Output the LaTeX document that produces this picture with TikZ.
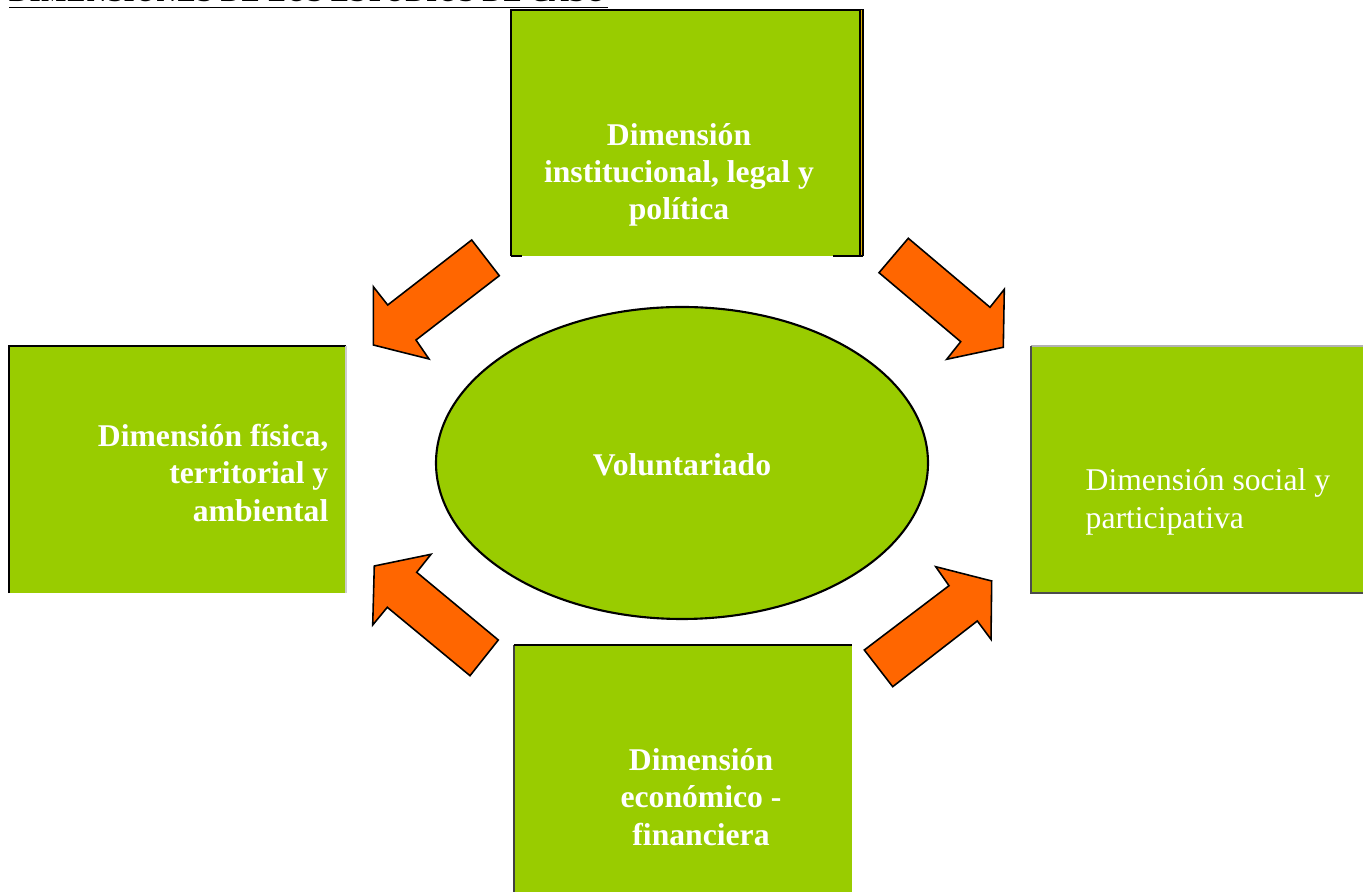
\documentclass[tikz,border=0pt]{standalone}
\usepackage{fontspec}
\setmainfont{Liberation Serif}
\definecolor{lime}{HTML}{99CC00}
\definecolor{orng}{HTML}{FF6600}
\definecolor{gold}{HTML}{E0B000}
\begin{document}
\begin{tikzpicture}[x=0.01cm,y=-0.01cm,
  box/.style={fill=lime, inner sep=0pt, outer sep=0pt},
  lbl/.style={text=white, font=\fontsize{9}{10.6}\selectfont\bfseries, inner sep=0pt},
  arr/.style={fill=orng, draw=black, line width=0.45pt, line join=miter},
  edge/.style={draw=black, line width=0.5pt}]
\useasboundingbox (0,0) rectangle (1363,892);
% title
\node[anchor=base west, inner sep=0pt, font=\fontsize{8.3}{10}\selectfont\bfseries\itshape] (title) at (9,1.5) {DIMENSIONES DE LOS ESTUDIOS DE CASO};
\draw[line width=0.45pt] (title.base west) ++(0,6) coordinate (ul1) -- (ul1 -| title.east);
% boxes
\node[box, minimum width=3.52cm, minimum height=2.46cm] (top) at (687,133) {};
\node[box, minimum width=3.37cm, minimum height=2.47cm] (left) at (177.5,469.5) {};
\node[box, minimum width=3.32cm, minimum height=2.47cm] (right) at (1197,469.5) {};
\node[box, minimum width=3.38cm, minimum height=2.47cm] (bottom) at (683,768.5) {};
% box borders
\draw[edge] (top.south west) -- (top.north west) -- (top.north east) -- (top.south east);
\draw[gold, line width=0.5pt] ([xshift=-0.015cm]top.north east) -- ([xshift=-0.015cm]top.south east);
\draw[edge] ([xshift=-0.03cm]top.north east) -- ([xshift=-0.03cm]top.south east);
\draw[edge] (top.south west) -- ++(11,0);
\draw[edge] (top.south east) -- ++(-30,0);
\draw[edge] (left.south west) -- (left.north west) -- (left.north east);
\draw[gray!40, line width=0.5pt] (left.north east) -- (left.south east);
\draw[gray!60, line width=0.5pt] (right.north east) -- (right.north west);
\draw[black!70, line width=0.5pt] (right.north west) -- (right.south west) -- (right.south east);
\draw[black!75, line width=0.5pt] (bottom.south west) -- (bottom.north west);
\draw[edge] (bottom.north west) -- (bottom.north east);
% ellipse
\draw[fill=lime, line width=0.6pt] (682,463) ellipse [x radius=246, y radius=156];
\node[lbl] (vol) at (682,465) {Voluntariado};
% labels
\node[lbl, align=center] (ttop) at (679,175) {Dimensión\\institucional, legal y\\política};
\node[lbl, align=right, anchor=east] (tleft) at (329,473) {Dimensión física,\\territorial y\\ambiental};
\node[lbl, align=left, anchor=west, font=\fontsize{9}{10.6}\selectfont\mdseries] (tright) at (1085,502) {Dimensión social y\\participativa};
\node[lbl, align=center] (tbot) at (701,797) {Dimensión\\económico -\\financiera};
% arrows
\draw[arr] (471.7,240) -- (499.3,275.7) -- (416,340) -- (429,359) -- (373.3,345) -- (373.3,286.7) -- (387.7,305) -- cycle;
\draw[arr] (908.3,238.3) -- (990,307.3) -- (1004.3,289.3) -- (1003.3,347.3) -- (946.7,359.3) -- (960.7,341.7) -- (879,272.7) -- cycle;
\draw[arr] (431,554.3) -- (374.3,566) -- (372.7,625) -- (387.3,607.3) -- (470,675.7) -- (498.3,640) -- (416.7,572.3) -- cycle;
\draw[arr] (935.7,566.7) -- (991.7,581) -- (991,639.3) -- (977.3,621) -- (892.7,686.7) -- (864.3,650) -- (949,585.7) -- cycle;
\end{tikzpicture}
\end{document}
